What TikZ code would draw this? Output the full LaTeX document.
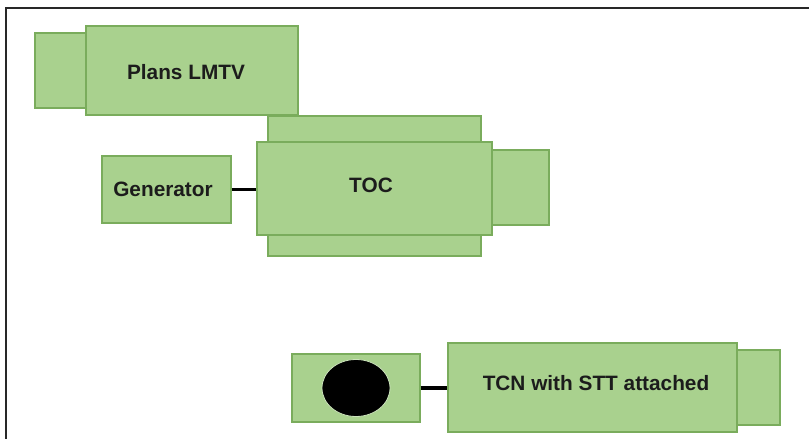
\documentclass[tikz,border=0pt]{standalone}
\usepackage{fontspec}
\setmainfont{Liberation Sans}
\usetikzlibrary{shapes.geometric}
\definecolor{boxfill}{RGB}{169,209,142}
\definecolor{boxline}{RGB}{122,172,92}
\definecolor{framecol}{RGB}{40,40,40}
\definecolor{txtcol}{RGB}{28,28,28}
\tikzset{
  box/.style={draw=boxline, fill=boxfill, line width=1.2pt, rectangle, inner sep=0pt},
  label/.style={font=\fontsize{20.8}{24}\selectfont\bfseries, text=txtcol, inner sep=0pt},
  link/.style={draw=black, line width=3.5pt},
}
\begin{document}
\begin{tikzpicture}[x=1pt, y=-1pt]
  \useasboundingbox (0,0) rectangle (809,439);
  % outer frame (top and left edges)
  \draw[framecol, line width=2pt] (809,8) -- (6,8) -- (6,439);

  % Plans LMTV
  \node[box, minimum width=52pt, minimum height=75pt] (plansL) at (61,70.5) {};
  \node[box, minimum width=212pt, minimum height=89pt] (plans) at (192,70.5) {};
  \node[label] (plansT) at ([shift={(-6,1.5)}]plans.center) {Plans LMTV};

  % TOC assembly
  \node[box, minimum width=213pt, minimum height=26pt] (tocT) at (374.5,129) {};
  \node[box, minimum width=213pt, minimum height=21pt] (tocB) at (374.5,245.5) {};
  \node[box, minimum width=235pt, minimum height=93pt] (toc) at (374.5,188.5) {};
  \node[label] (tocTxt) at ([shift={(-3.5,-3.5)}]toc.center) {TOC};
  \node[box, minimum width=57pt, minimum height=75pt] (tocR) at (520.5,187.5) {};

  % Generator
  \node[box, minimum width=129pt, minimum height=67pt] (gen) at (166.5,189.5) {};
  \node[label] (genTxt) at ([shift={(-3.5,0)}]gen.center) {Generator};
  \draw[link] (gen.east) -- (gen.east -| toc.west);

  % TCN with STT attached
  \node[box, minimum width=128pt, minimum height=68pt] (stt) at (356,388) {};
  \node[ellipse, fill=black, draw=boxfill!60!white, line width=0.8pt, minimum width=68pt, minimum height=57pt, inner sep=0pt] (dot) at (356,388) {};
  \node[box, minimum width=289pt, minimum height=89pt] (tcn) at (592.5,387.5) {};
  \node[label] (tcnTxt) at ([shift={(3.5,-4)}]tcn.center) {TCN with STT attached};
  \node[box, minimum width=43pt, minimum height=75pt] (tcnR) at (758.5,387.5) {};
  \draw[link] (stt.east) -- (stt.east -| tcn.west);
\end{tikzpicture}
\end{document}
